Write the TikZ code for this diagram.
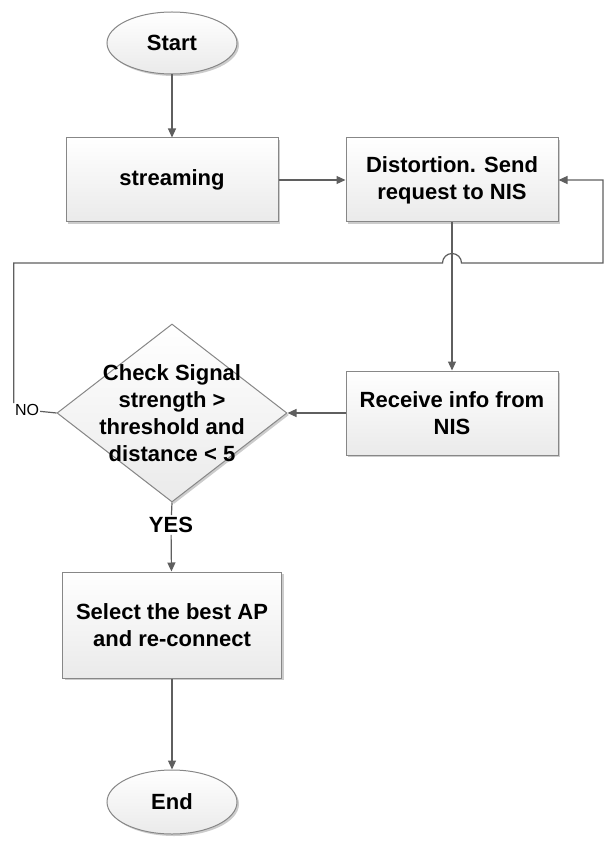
\documentclass[tikz,border=0pt]{standalone}
\usepackage{fontspec}
\setmainfont{Liberation Sans}
\usetikzlibrary{shapes.geometric, arrows.meta, shadows}
\definecolor{boxline}{RGB}{135,135,135}
\definecolor{boxfill}{RGB}{234,234,234}
\definecolor{flowline}{RGB}{95,95,95}

\begin{document}
\begin{tikzpicture}[x = 1pt, y = -1pt,
	every node/.style = {font = \bfseries\fontsize{22}{27}\selectfont, align = center},
	box/.style = {draw = boxline, line width = 1pt, top color = white, bottom color = boxfill,
		drop shadow = {shadow xshift = 2pt, shadow yshift = -2pt, opacity = 0.2, fill = black}},
	terminal/.style = {box, ellipse, minimum width = 130pt, minimum height = 62pt, inner sep = 0pt},
	process/.style = {box, rectangle, minimum width = 212pt, minimum height = 84pt},
	decision/.style = {box, diamond, minimum width = 230pt, minimum height = 178pt, inner sep = 0pt},
	link/.style = {draw = flowline, line width = 1.2pt},
	flow/.style = {link, -{Triangle[length = 9pt, width = 8pt]}}]
		\useasboundingbox (0, 0) rectangle (605, 842);
		%%%%%%%%%%%%%
		\node[terminal] (start) at (172, 43) {Start};
		\node[process] (stream) at (172, 180) {streaming};
		\node[process] (sendreq) at (452, 180) {Distortion. Send\\request to NIS};
		\node[process] (recv) at (452, 413) {Receive info from\\NIS};
		\node[decision] (check) at (172, 413) {};
		\node (checktext) at (check) {Check Signal\\strength >\\threshold and\\distance < 5};
		\node[font = \fontsize{16}{18}\selectfont, inner sep = 1pt] (no) at (27, 410) {NO};
		\node[inner sep = 2pt] (yes) at (171, 525) {YES};
		\node[process, minimum width = 219pt, minimum height = 106pt] (select) at (172, 625) {Select the best AP\\and re-connect};
		\node[terminal, minimum height = 64pt] (end) at (172, 802) {End};
		%%%%%%%%%%%%%
		\draw[flow] (start) to (stream);
		\draw[flow] (stream) to (sendreq);
		\draw[flow] (sendreq) to (recv);
		\draw[flow] (recv) to (check.east);
		\draw[link] (check.south) to (yes);
		\draw[flow] (yes) to (select);
		\draw[flow] (select) to (end);
		\draw[link] (check.west) to (no);
		\draw[flow] (no.north west) |- (442.5, 263) arc[start angle = 180, end angle = 360, radius = 9.5]
			-- (603, 263) |- (sendreq.east);
\end{tikzpicture}
\end{document}
